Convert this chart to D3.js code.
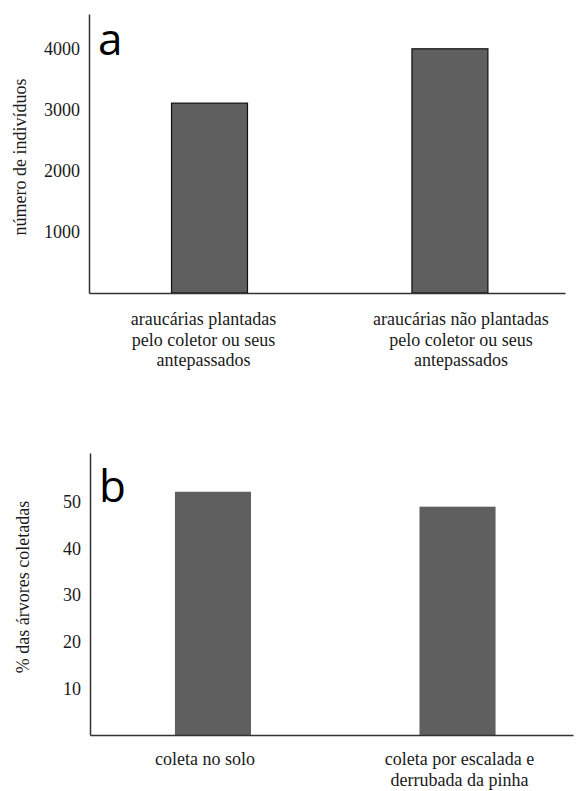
<!DOCTYPE html>
<html>
<head>
<meta charset="utf-8">
<script src="https://cdn.jsdelivr.net/npm/d3@7"></script>
<style>
  html, body { margin: 0; padding: 0; background: #fff; }
  svg { display: block; }
  text.serif { font-family: "Liberation Serif", "Times New Roman", serif; fill: #1a1a1a; }
  text.letter { font-family: "Open Sans", "DejaVu Sans", sans-serif; fill: #000; }
</style>
</head>
<body>
<svg id="chart" width="576" height="791"></svg>
<script>
// ---- Data ----
const categoriesA = [
  ["araucárias plantadas", "pelo coletor ou seus", "antepassados"],
  ["araucárias não plantadas", "pelo coletor ou seus", "antepassados"]
];
const valuesA = [3110, 4000];
const ticksA = [1000, 2000, 3000, 4000];
const yLabelA = "número de indivíduos";
const panelA = "a";

const categoriesB = [
  ["coleta no solo"],
  ["coleta por escalada e", "derrubada da pinha"]
];
const valuesB = [52.1, 48.9];
const ticksB = [10, 20, 30, 40, 50];
const yLabelB = "% das árvores coletadas";
const panelB = "b";

const svg = d3.select("#chart");

function panel(cfg) {
  const g = svg.append("g");
  const x = d3.scaleBand()
    .domain(cfg.cats.map((d, i) => i))
    .range([cfg.x0, cfg.x1])
    .paddingInner(cfg.pi).paddingOuter(cfg.po).align(cfg.align);
  const y = d3.scaleLinear().domain([0, cfg.yMax]).range([cfg.y0, cfg.y1]);

  // bars
  g.selectAll("rect.bar").data(cfg.vals).enter().append("rect")
    .attr("class", "bar")
    .attr("x", (d, i) => x(i))
    .attr("width", x.bandwidth())
    .attr("y", d => y(d))
    .attr("height", d => y(0) - y(d))
    .attr("fill", "#5f5f5f")
    .attr("stroke", cfg.barStroke)
    .attr("stroke-width", 1.2);

  // y axis
  const ya = d3.axisLeft(y).tickValues(cfg.ticks).tickSize(0).tickPadding(9)
    .tickFormat(d3.format("d"));
  const yg = g.append("g").attr("transform", `translate(${cfg.x0},0)`).call(ya);
  yg.select(".domain").attr("stroke", "#333").attr("stroke-width", 1.5);
  yg.selectAll("text").attr("class", "serif").style("font-size", "18px");

  // x axis
  const xa = d3.axisBottom(x).tickSize(0).tickFormat("");
  const xg = g.append("g").attr("transform", `translate(0,${cfg.y0})`).call(xa);
  xg.select(".domain").attr("stroke", "#333").attr("stroke-width", 1.5);

  // category labels
  cfg.cats.forEach((lines, i) => {
    const cx = x(i) + x.bandwidth() / 2 + cfg.labDx[i];
    const t = g.append("text").attr("class", "serif")
      .attr("text-anchor", "middle").style("font-size", "18px");
    lines.forEach((ln, k) => {
      t.append("tspan").attr("x", cx).attr("y", cfg.labY + k * cfg.labLh).text(ln);
    });
  });

  // y label
  g.append("text").attr("class", "serif")
    .attr("transform", `translate(${cfg.ylx},${cfg.yly}) rotate(-90)`)
    .attr("text-anchor", "middle")
    .attr("dominant-baseline", "central")
    .style("font-size", "18px")
    .text(cfg.ylabel);

  // panel letter
  g.append("text").attr("class", "letter")
    .attr("x", cfg.x0 + 9).attr("y", cfg.letterY)
    .style("font-size", "44px")
    .text(cfg.letter);
}

panel({
  cats: categoriesA, vals: valuesA, ticks: ticksA, ylabel: yLabelA, letter: panelA,
  x0: 89, x1: 565, pi: 0.684, po: 0.332, align: 0.517,
  y0: 293, y1: 14, yMax: 4570,
  barStroke: "#111",
  labDx: [-6, 11], labY: 325, labLh: 20.5,
  ylx: 20, yly: 157, letterY: 55
});

panel({
  cats: categoriesB, vals: valuesB, ticks: ticksB, ylabel: yLabelB, letter: panelB,
  x0: 90, x1: 573, pi: 0.689, po: 0.332, align: 0.523,
  y0: 735, y1: 453, yMax: 60.4,
  barStroke: "none",
  labDx: [-8, 2], labY: 765, labLh: 20.5,
  ylx: 23, yly: 587, letterY: 502
});
</script>
</body>
</html>
